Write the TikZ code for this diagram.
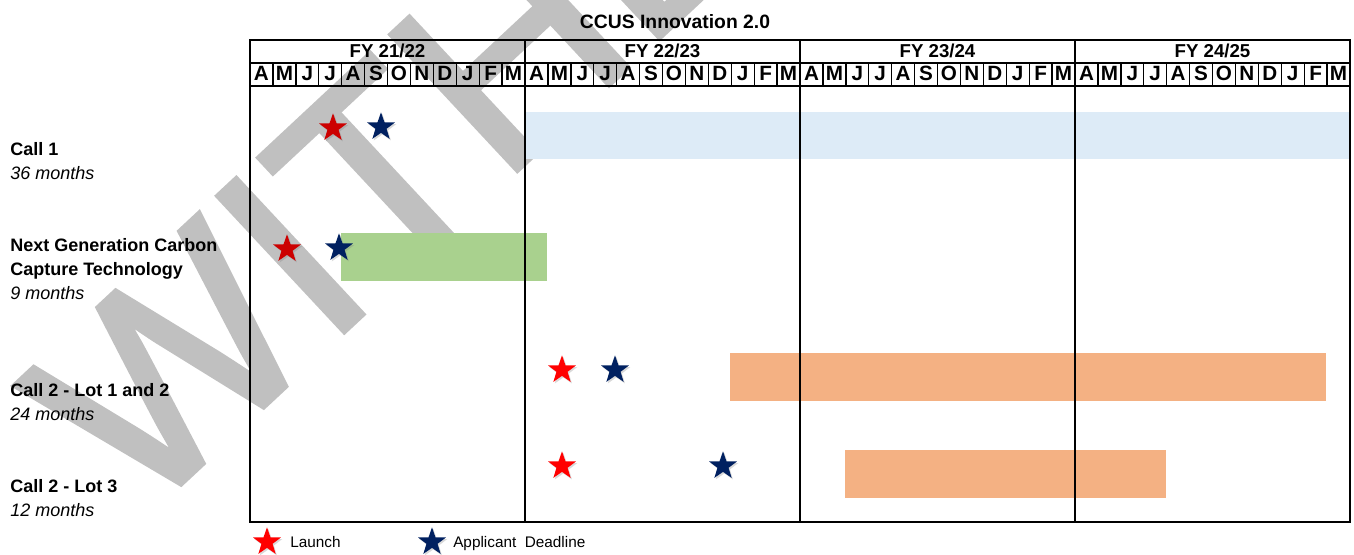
\documentclass[tikz,border=0pt]{standalone}
\usepackage{fontspec}
\setmainfont{Liberation Sans}
\newfontfamily\markfont[FakeBold=2]{Liberation Sans}
\usetikzlibrary{shapes.geometric}
\usetikzlibrary{shadows}
\usetikzlibrary{positioning}
\definecolor{CCLaunch}{RGB}{255,0,0}
\definecolor{CCLaunchDark}{RGB}{204,0,0}
\definecolor{CCDeadline}{RGB}{0,32,96}
\definecolor{CCCallOne}{RGB}{221,235,247}
\definecolor{CCNextGen}{RGB}{169,209,142}
\definecolor{CCCallTwo}{RGB}{244,177,131}
\definecolor{CCMark}{RGB}{192,192,192}
\tikzset{
  milestone/.style={star,star points=5,star point ratio=2.5,minimum size=22pt,inner sep=0pt,
    drop shadow={shadow xshift=1pt,shadow yshift=-1.2pt,opacity=0.3}},
  launch/.style={milestone,fill=CCLaunch},
  launchdark/.style={milestone,fill=CCLaunchDark},
  deadline/.style={milestone,fill=CCDeadline},
  rowlabel/.style={anchor=base west,inner sep=0pt,font=\fontsize{13.5}{16}\selectfont\bfseries},
  rowmonths/.style={anchor=base west,inner sep=0pt,font=\fontsize{13.5}{16}\selectfont\itshape},
  yearlabel/.style={anchor=base,inner sep=0pt,font=\fontsize{14}{16}\selectfont\bfseries},
  monthlabel/.style={anchor=base,inner sep=0pt,font=\fontsize{15.5}{17}\selectfont\bfseries},
  keytext/.style={anchor=base west,inner sep=0pt,font=\fontsize{11.5}{13}\selectfont},
  frameline/.style={line width=1.6pt},
  monthline/.style={line width=1pt}
}
\begin{document}
\begin{tikzpicture}[x=0.75pt,y=-0.75pt]
  \useasboundingbox (0,0) rectangle (1354,555);
  % watermark behind everything
  \begin{scope}
    \clip (0,0) rectangle (1354,555);
    \node[anchor=base west,inner sep=0pt,text=CCMark,rotate=43,
      font=\fontsize{202}{202}\markfont] (mark) at (140,522) {WITHDRAWN};
  \end{scope}
  % bars
  \fill[CCCallOne] (525,112) rectangle (1350,159);
  \fill[CCNextGen] (341,233) rectangle (547,281);
  \fill[CCCallTwo] (730,353) rectangle (1326,401);
  \fill[CCCallTwo] (845,450) rectangle (1166,498);
  % table
  \draw[frameline] (250,40) rectangle (1350,522);
  \draw[frameline] (250,63) -- (1350,63);
  \draw[frameline] (250,86) -- (1350,86);
  \foreach \k in {1,...,47}
    \draw[monthline] ({250+\k*275/12},63) -- ({250+\k*275/12},86);
  \foreach \fy in {1,2,3}
    \draw[frameline] ({250+\fy*275},40) -- ({250+\fy*275},522);
  \node[anchor=base,inner sep=0pt,font=\fontsize{14.5}{16}\selectfont\bfseries] (title) at (675,29) {CCUS Innovation 2.0};
  \node[yearlabel] (fy1) at (387.5,58) {FY 21/22};
  \node[yearlabel] (fy2) at (662.5,58) {FY 22/23};
  \node[yearlabel] (fy3) at (937.5,58) {FY 23/24};
  \node[yearlabel] (fy4) at (1212.5,58) {FY 24/25};
  \foreach \fy in {0,...,3}
    \foreach \m [count=\i] in {A,M,J,J,A,S,O,N,D,J,F,M}
      \node[monthlabel] (m\fy-\i) at ({250+\fy*275+(\i-0.5)*275/12},81) {\m};
  % row labels
  \node[rowlabel] (call1) at (10,156) {Call 1};
  \node[rowmonths] (call1m) at (10,180) {36 months};
  \node[rowlabel] (nextgen) at (10,252) {Next Generation Carbon};
  \node[rowlabel] (nextgenb) at (10,276) {Capture Technology};
  \node[rowmonths] (nextgenm) at (10,300) {9 months};
  \node[rowlabel] (lotone) at (10,397) {Call 2 - Lot 1 and 2};
  \node[rowmonths] (lotonem) at (10,421) {24 months};
  \node[rowlabel] (lotthree) at (10,493) {Call 2 - Lot 3};
  \node[rowmonths] (lotthreem) at (10,517) {12 months};
  % milestones
  \node[launchdark] (call1l) at (333,128) {};
  \node[deadline] (call1d) at (381,127) {};
  \node[launchdark] (nextgenl) at (287,249) {};
  \node[deadline] (nextgend) at (339,248) {};
  \node[launch] (lotonel) at (562,370) {};
  \node[deadline] (loneoned) at (615,370) {};
  \node[launch] (lotthreel) at (562,466) {};
  \node[deadline] (lotthreed) at (723,466) {};
  % key
  \node[launch] (keylaunch) at (267,542) {};
  \node[keytext] (keylaunchtext) at (290,548) {Launch};
  \node[deadline] (keydeadline) at (432,542) {};
  \node[keytext] (keydeadlinetext) at (453,548) {Applicant\ \ Deadline};
\end{tikzpicture}
\end{document}
